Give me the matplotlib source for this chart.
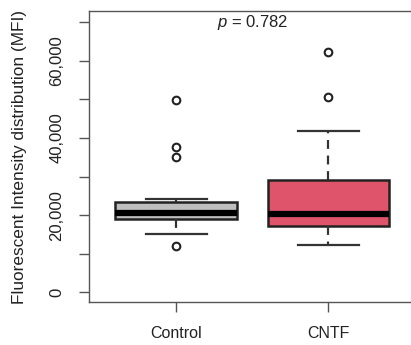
import matplotlib
matplotlib.use('Agg')
import matplotlib.pyplot as plt
from matplotlib.ticker import FuncFormatter, MultipleLocator

plt.rcParams['font.family'] = ['Liberation Sans', 'DejaVu Sans']
plt.rcParams['mathtext.fontset'] = 'custom'
plt.rcParams['mathtext.it'] = 'Liberation Sans:italic'
plt.rcParams['mathtext.rm'] = 'Liberation Sans'

# values
groups = ['Control', 'CNTF']
q1 = [19000, 17300]
med = [20500, 20300]
q3 = [23300, 29000]
whislo = [15000, 12400]
whishi = [24100, 41700]
fliers = [[49900, 37700, 35100, 11900], [62300, 50700]]
colors = ['#BEBEBE', '#DF536B']
p_text = r'$p$ = 0.782'

stats = []
for i, g in enumerate(groups):
    stats.append(dict(label=g, q1=q1[i], med=med[i], q3=q3[i],
                      whislo=whislo[i], whishi=whishi[i], fliers=fliers[i]))

fig = plt.figure(figsize=(4.11, 3.45), dpi=100)
ax = fig.add_axes([0.2165, 0.1246, 0.795, 0.8434])

bp = ax.bxp(stats, positions=[1, 2], widths=0.8, patch_artist=True,
            capwidths=0.4,
            boxprops=dict(linewidth=1.8, edgecolor='#222222'),
            medianprops=dict(color='black', linewidth=4.5, solid_capstyle='butt'),
            whiskerprops=dict(linestyle=(0, (4, 3)), linewidth=1.6, color='#333333'),
            capprops=dict(linewidth=1.6, color='#333333'),
            flierprops=dict(marker='o', markersize=5.5, markerfacecolor='none',
                            markeredgecolor='#222222', markeredgewidth=1.5))
for patch, c in zip(bp['boxes'], colors):
    patch.set_facecolor(c)

ax.set_xlim(0.426, 2.574)
ax.set_ylim(-2500, 72900)
ax.yaxis.set_major_locator(MultipleLocator(10000))
ax.yaxis.set_major_formatter(FuncFormatter(
    lambda v, pos: '{:,.0f}'.format(v) if round(v) % 20000 == 0 else ''))
ax.set_xticks([1, 2])
ax.set_xticklabels(groups)

for s in ax.spines.values():
    s.set_color('#555555')
    s.set_linewidth(1.0)
ax.tick_params(axis='both', length=7, width=1.0, color='#555555',
               labelsize=11.5, labelcolor='#222222')
ax.tick_params(axis='y', labelsize=12)
ax.tick_params(axis='x', pad=10)
for lab in ax.get_yticklabels():
    lab.set_rotation(90)
    lab.set_va('center')
    lab.set_ha('center')
ax.tick_params(axis='y', pad=16)

ax.set_ylabel('Fluorescent Intensity distribution (MFI)', fontsize=12.4,
              color='#222222')
ax.yaxis.set_label_coords(-0.19, 0.5)

ax.text(1.5, 70000, p_text, ha='center', va='center', fontsize=12, color='#222222')

fig.savefig('out.png', dpi=100)
